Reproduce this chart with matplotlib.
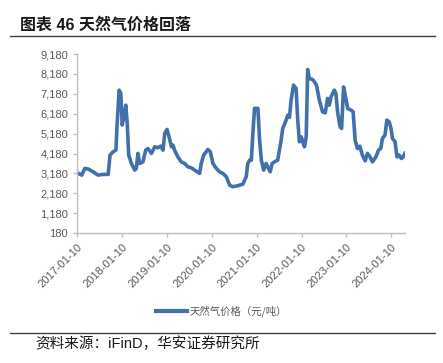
import numpy as np
import pandas as pd
import matplotlib
matplotlib.use('Agg')
import matplotlib.pyplot as plt
import matplotlib.dates as mdates
from matplotlib.ticker import FuncFormatter
from matplotlib.lines import Line2D

plt.rcParams['font.family'] = ['Liberation Sans', 'Noto Sans CJK SC', 'DejaVu Sans']

# natural gas price, yuan/ton
dates = ['2017-01-10', '2017-01-20', '2017-02-17', '2017-03-14', '2017-04-10', '2017-05-20',
         '2017-06-30', '2017-08-10', '2017-09-20', '2017-10-05', '2017-10-30', '2017-11-22',
         '2017-12-02', '2017-12-18', '2018-01-01', '2018-01-12', '2018-01-26', '2018-02-10',
         '2018-02-22', '2018-03-06', '2018-03-28', '2018-04-24', '2018-05-07', '2018-05-20',
         '2018-06-03', '2018-06-30', '2018-07-22', '2018-08-10', '2018-09-07', '2018-10-04',
         '2018-10-30', '2018-11-22', '2018-12-10', '2018-12-24', '2019-01-12', '2019-01-28',
         '2019-02-17', '2019-03-01', '2019-03-14', '2019-04-10', '2019-05-08', '2019-06-04',
         '2019-06-30', '2019-07-28', '2019-08-24', '2019-10-04', '2019-10-17', '2019-11-06',
         '2019-12-10', '2019-12-30', '2020-01-20', '2020-02-17', '2020-03-14', '2020-04-10',
         '2020-05-08', '2020-06-04', '2020-06-30', '2020-08-10', '2020-09-20', '2020-10-04',
         '2020-10-17', '2020-10-30', '2020-11-14', '2020-11-28', '2020-12-10', '2020-12-24',
         '2021-01-20', '2021-02-03', '2021-02-17', '2021-03-08', '2021-03-28', '2021-04-30',
         '2021-05-16', '2021-06-04', '2021-06-30', '2021-07-28', '2021-08-10', '2021-09-07',
         '2021-09-20', '2021-10-04', '2021-10-17', '2021-11-06', '2021-11-27', '2021-12-10',
         '2021-12-24', '2022-01-08', '2022-01-20', '2022-02-03', '2022-02-17', '2022-03-01',
         '2022-03-14', '2022-04-10', '2022-04-24', '2022-05-12', '2022-06-04', '2022-06-30',
         '2022-07-22', '2022-08-10', '2022-08-24', '2022-09-07', '2022-10-04', '2022-10-17',
         '2022-10-30', '2022-11-20', '2022-12-02', '2022-12-18', '2023-01-01', '2023-01-20',
         '2023-02-17', '2023-03-06', '2023-03-22', '2023-04-10', '2023-04-30', '2023-05-20',
         '2023-06-12', '2023-06-30', '2023-07-20', '2023-08-10', '2023-09-07', '2023-09-28',
         '2023-10-17', '2023-10-30', '2023-11-20', '2023-12-05', '2023-12-24', '2024-01-08',
         '2024-01-20', '2024-02-10', '2024-02-25', '2024-03-14', '2024-04-02', '2024-04-16',
         '2024-04-30']
price = [3200, 3180, 3094, 3430, 3400, 3260,
         3094, 3130, 3130, 4100, 4265, 4350,
         5690, 7365, 7200, 5610, 6025, 6610,
         5690, 4100, 3680, 3345, 3430, 4185,
         3680, 3760, 4350, 4430, 4185, 4520,
         4470, 4550, 4350, 5190, 5390, 5020,
         4520, 4600, 4350, 4010, 3760, 3680,
         3510, 3460, 3345, 3180, 3680, 4100,
         4380, 4265, 3680, 3430, 3260, 3180,
         3010, 2590, 2510, 2560, 2640, 2840,
         3010, 3680, 3845, 3845, 5190, 6450,
         6450, 4850, 3845, 3345, 3680, 3260,
         3680, 3760, 3845, 4850, 5440, 5860,
         6110, 6000, 6860, 7620, 7450, 5860,
         4770, 5020, 4770, 4520, 5020, 8405,
         7955, 7900, 7790, 7620, 6860, 6275,
         6225, 6950, 6610, 7030, 7365, 7200,
         6275, 5520, 5440, 7530, 7115, 6450,
         6360, 6275, 4850, 4430, 4550, 4100,
         3810, 4185, 4020, 3760, 4010, 4350,
         4430, 4935, 5100, 5860, 5775, 5440,
         4935, 4770, 4010, 4100, 3930, 4010,
         4185]
y_ticks = [180, 1180, 2180, 3180, 4180, 5180, 6180, 7180, 8180, 9180]
x_ticks = ['2017-01-10', '2018-01-10', '2019-01-10', '2020-01-10',
           '2021-01-10', '2022-01-10', '2023-01-10', '2024-01-10']

dt = pd.to_datetime(dates)
line_color = '#4170AB'
gray = '#595959'

fig = plt.figure(figsize=(4.43, 3.63), dpi=100)
ax = fig.add_axes([0.174, 0.358, 0.74, 0.493])
ax.plot(dt, price, color=line_color, lw=2.6, solid_joinstyle='round')

ax.set_ylim(180, 9180)
ax.set_yticks(y_ticks)
ax.yaxis.set_major_formatter(FuncFormatter(lambda v, p: f'{int(v):,}'))
ax.set_xlim(dt[0], dt[-1])
ax.set_xticks(pd.to_datetime(x_ticks))
ax.xaxis.set_major_formatter(mdates.DateFormatter('%Y-%m-%d'))
plt.setp(ax.get_xticklabels(), rotation=45, ha='right', rotation_mode='anchor')

for s in ['top', 'right']:
    ax.spines[s].set_visible(False)
for s in ['left', 'bottom']:
    ax.spines[s].set_color('#BFBFBF')
    ax.spines[s].set_linewidth(1)
ax.tick_params(axis='both', colors='#BFBFBF', labelcolor=gray, labelsize=8,
               length=3, width=1)

# legend below the axes
h = Line2D([], [], color=line_color, lw=3)
fig.legend([h], ['天然气价格（元/吨）'], loc='center', bbox_to_anchor=(0.5, 1 - 311 / 363),
           frameon=False, handlelength=3, handletextpad=0.3,
           prop={'family': ['Noto Sans CJK SC'], 'size': 7.5}, labelcolor=gray)

# title, rules and source
fig.text(0.045, 1 - 25 / 363, '图表 46 天然气价格回落', fontsize=11.5, fontweight='bold',
         family=['Liberation Sans', 'Noto Sans CJK SC'], va='center', color='#1a1a1a')
fig.add_artist(Line2D([10 / 443, 435 / 443], [1 - 36 / 363] * 2, color='#404040', lw=1))
fig.add_artist(Line2D([10 / 443, 435 / 443], [1 - 333 / 363] * 2, color='#404040', lw=1))
fig.text(0.079, 1 - 344 / 363, '资料来源：iFinD，华安证券研究所', fontsize=10.5,
         family=['Liberation Sans', 'Noto Sans CJK SC'], va='center', color='#1a1a1a')

fig.savefig('out.png', dpi=100)
